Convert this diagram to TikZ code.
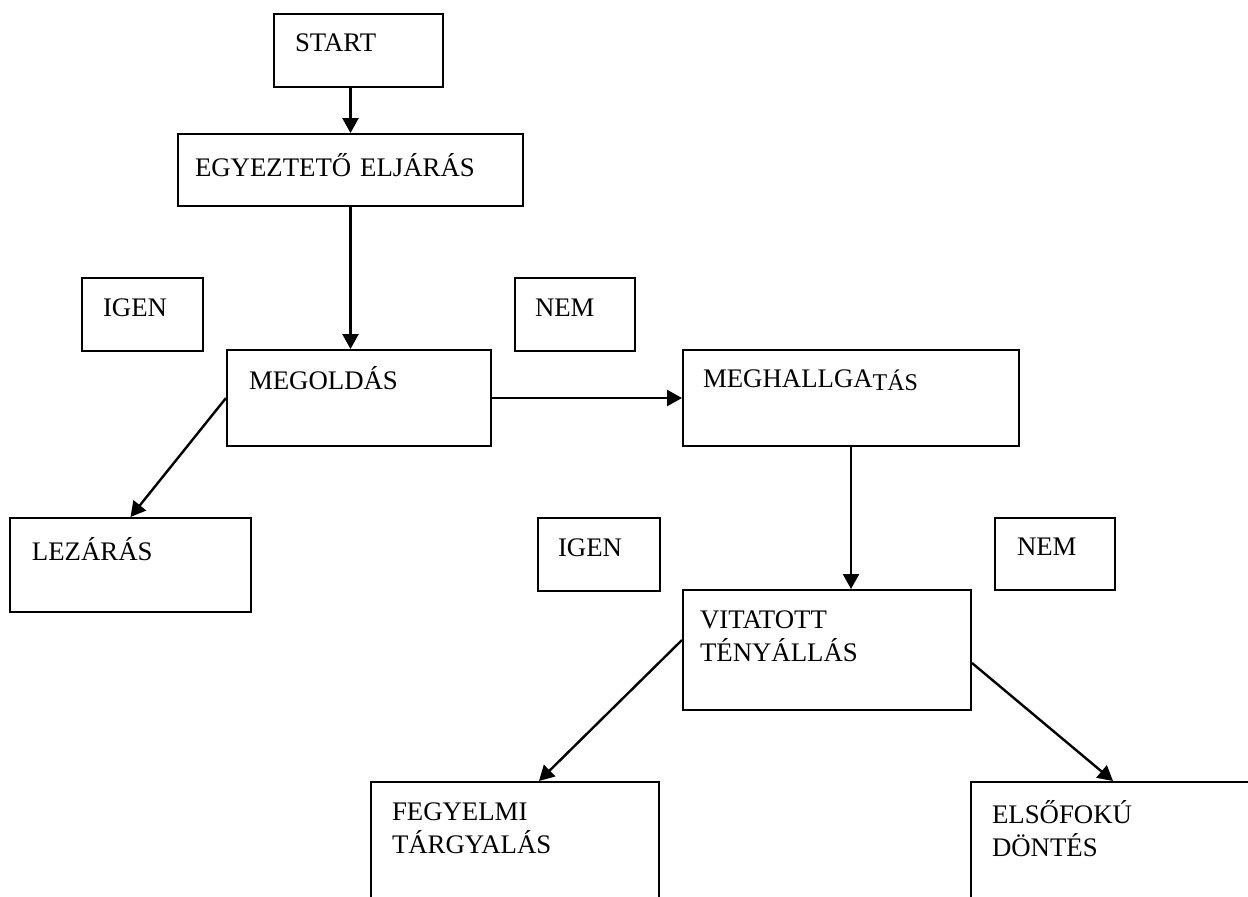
\documentclass[tikz,border=0pt]{standalone}
\usepackage{fontspec}
\setmainfont{Liberation Serif}
\usetikzlibrary{arrows.meta}
\tikzset{
  >={Triangle[length=7.5pt,width=8pt]},
  flow/.style={->,line width=1.2pt},
  box/.style={draw,line width=1pt,anchor=text,align=left,inner ysep=0pt,
    font=\fontsize{13.4pt}{16.5pt}\selectfont}
}
\begin{document}
\begin{tikzpicture}[x=0.5pt,y=-0.5pt]
  \useasboundingbox (0,0) rectangle (1248,896);
  \clip (0,0) rectangle (1248,896);
  % upper part
  \node[box,inner xsep=10.5pt,text width=63.5pt,text height=18.5pt,text depth=18pt] (start) at (295,51) {START};
  \node[box,inner xsep=8.5pt,text width=155.5pt,text height=21pt,text depth=15pt] (egyez) at (195,176) {EGYEZTETŐ ELJÁRÁS};
  \node[box,inner xsep=10.5pt,text width=39.5pt,text height=19pt,text depth=17.5pt] (igenA) at (103,316) {IGEN};
  \node[box,inner xsep=10pt,text width=40pt,text height=19pt,text depth=17.5pt] (nemA) at (535,316) {NEM};
  \node[box,inner xsep=11pt,text width=110pt,text height=19.5pt,text depth=28.5pt] (megold) at (249,389) {MEGOLDÁS};
  \node[box,inner xsep=10pt,text width=148pt,text height=18.5pt,text depth=29.5pt] (meghall) at (703,387)
    {MEGHALLGA{\fontsize{12pt}{14pt}\selectfont\raisebox{-1.5pt}{TÁS}}};
  % lower part
  \node[box,inner xsep=11pt,text width=98.5pt,text height=21pt,text depth=26pt] (lezar) at (32,560) {LEZÁRÁS};
  \node[box,inner xsep=10pt,text width=41pt,text height=19pt,text depth=17.5pt] (igenB) at (558,556) {IGEN};
  \node[box,inner xsep=11pt,text width=38pt,text height=18.5pt,text depth=17.5pt] (nemB) at (1017,555) {NEM};
  \node[box,inner xsep=8.5pt,text width=127pt,text height=19pt,text depth=41pt] (vitat) at (700,628) {VITATOTT\\TÉNYÁLLÁS};
  \node[box,inner xsep=10.5pt,text width=123pt,text height=19pt,text depth=60pt] (fegy) at (392,820) {FEGYELMI\\TÁRGYALÁS};
  \node[box,inner xsep=10.5pt,text width=121pt,text height=20.5pt,text depth=58.5pt] (elso) at (992,823) {ELSŐFOKÚ\\DÖNTÉS};
  % connectors
  \draw[flow] (start.south -| egyez.north) -- (egyez.north);
  \draw[flow] (egyez.south) -- (egyez.south |- megold.north);
  \draw[flow] (megold.east) -- (meghall.west);
  \draw[flow] (megold.west) -- (lezar.north);
  \draw[flow] (meghall.south) -- (meghall.south |- vitat.north);
  \draw[flow] ([yshift=5pt]vitat.west) -- ([xshift=12pt]fegy.north);
  \draw[flow] ([yshift=-6.5pt]vitat.east) -- (elso.north);
\end{tikzpicture}
\end{document}
